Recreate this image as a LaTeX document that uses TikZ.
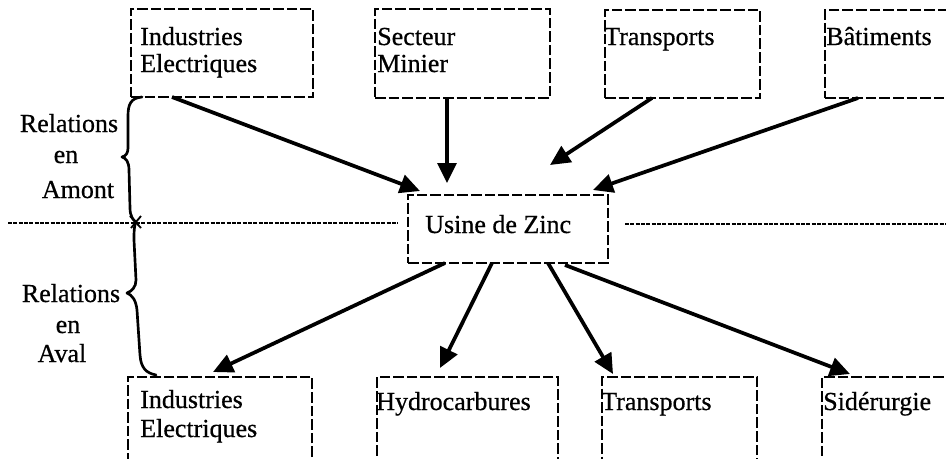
\documentclass[tikz,border=0pt]{standalone}
\usepackage{fontspec}
\setmainfont[FakeBold=0.6]{Liberation Serif}
\usetikzlibrary{arrows.meta,calc}
\newcommand\lbfont{\fontsize{19.5}{20}\selectfont}
\tikzset{
  dbox/.style={draw, dash pattern=on 8pt off 2.2pt, line width=1.3pt, inner sep=0pt, outer sep=0pt, anchor=north west},
  lbl/.style={anchor=base west, inner sep=0pt, font=\lbfont},
  clbl/.style={anchor=base, inner sep=0pt, font=\lbfont},
  arr/.style={line width=2.8pt, -{Triangle[length=15pt,width=14pt]}},
  sepline/.style={dash pattern=on 3pt off 1pt, line width=1.2pt},
  brc/.style={line width=2pt, line cap=round, line join=round},
}
\begin{document}
\begin{tikzpicture}[x=0.75pt,y=-0.75pt]
\useasboundingbox (0,0) rectangle (946,458);
% top boxes
\node[dbox, minimum width=182*0.75pt, minimum height=88*0.75pt] (t1) at (131,9) {};
\node[dbox, minimum width=175*0.75pt, minimum height=89*0.75pt] (t2) at (375,9) {};
\node[dbox, minimum width=155*0.75pt, minimum height=88*0.75pt] (t3) at (605,10) {};
\node[dbox, minimum width=140*0.75pt, minimum height=88*0.75pt] (t4) at (825,10) {};
% centre
\node[dbox, minimum width=200*0.75pt, minimum height=68*0.75pt] (z) at (408,195) {};
% bottom boxes
\node[dbox, minimum width=184*0.75pt, minimum height=100*0.75pt] (b1) at (128,377) {};
\node[dbox, minimum width=181*0.75pt, minimum height=100*0.75pt] (b2) at (377,377) {};
\node[dbox, minimum width=155*0.75pt, minimum height=100*0.75pt] (b3) at (602,377) {};
\node[dbox, minimum width=140*0.75pt, minimum height=100*0.75pt] (b4) at (822,377) {};
% labels
\node[lbl] (t1a) at (140,45) {Industries};
\node[lbl] (t1b) at (140,72) {Electriques};
\node[lbl] (t2a) at (377,45) {Secteur};
\node[lbl] (t2b) at (377,72) {Minier};
\node[lbl] (t3a) at (604,45) {Transports};
\node[lbl] (t4a) at (826,45) {Bâtiments};
\node[lbl] (za) at (425,233) {Usine de Zinc};
\node[lbl] (b1a) at (140,408) {Industries};
\node[lbl] (b1b) at (140,437) {Electriques};
\node[lbl] (b2a) at (376,410) {Hydrocarbures};
\node[lbl] (b3a) at (601,410) {Transports};
\node[lbl] (b4a) at (823,410) {Sidérurgie};
\node[clbl] (r1a) at (69,132) {Relations};
\node[clbl] (r1b) at (66,163) {en};
\node[clbl] (r1c) at (78,198) {Amont};
\node[clbl] (r2a) at (71,302) {Relations};
\node[clbl] (r2b) at (68,333) {en};
\node[clbl] (r2c) at (62,362) {Aval};
% separator line
\coordinate (sl) at (8,223);
\coordinate (sr) at (946,224);
\draw[sepline] (sl) -- ($(z.north west)+(-10,28)$);
\draw[sepline] ($(z.north east)+(17,29)$) -- (sr);
% braces
\draw[brc] (142,97) .. controls (131,98) and (128,104) .. (128,116) -- (128,148)
  .. controls (128,153) and (126,156) .. (122,157)
  .. controls (126,158) and (129,162) .. (129,170) -- (130,208)
  .. controls (130,216) and (133,220) .. (136,222);
\draw[brc] (136,222) .. controls (134,226) and (134,232) .. (134,240) -- (136,280)
  .. controls (136,287) and (132,291) .. (127,293)
  .. controls (132,295) and (136,300) .. (137,310) -- (140,355)
  .. controls (141,368) and (146,373) .. (156,375);
\draw[line width=1.4pt] (130,216) -- (141,228) (141,216) -- (131,228);
% arrows in
\coordinate (fe) at (550,165);
\draw[arr] ($(t1.south west)+(41,0)$) -- ($(z.north west)+(12,-4)$);
\draw[arr] ($(t2.south west)+(72,0)$) -- ($(z.north west)+(39,-12)$);
\draw[arr] ($(t3.south west)+(47,0)$) -- (fe);
\draw[arr] ($(t4.south west)+(33,0)$) -- ($(z.north west)+(185,-5)$);
% arrows out
\draw[arr] ($(z.south west)+(37,0)$) -- ($(b1.north west)+(85,-5)$);
\draw[arr] ($(z.south west)+(84,0)$) -- ($(b2.north west)+(63,-9)$);
\draw[arr] ($(z.south west)+(140,0)$) -- ($(b3.north west)+(11,-3)$);
\draw[arr] ($(z.south west)+(157,2)$) -- ($(b4.north west)+(28,-3)$);
\end{tikzpicture}
\end{document}
